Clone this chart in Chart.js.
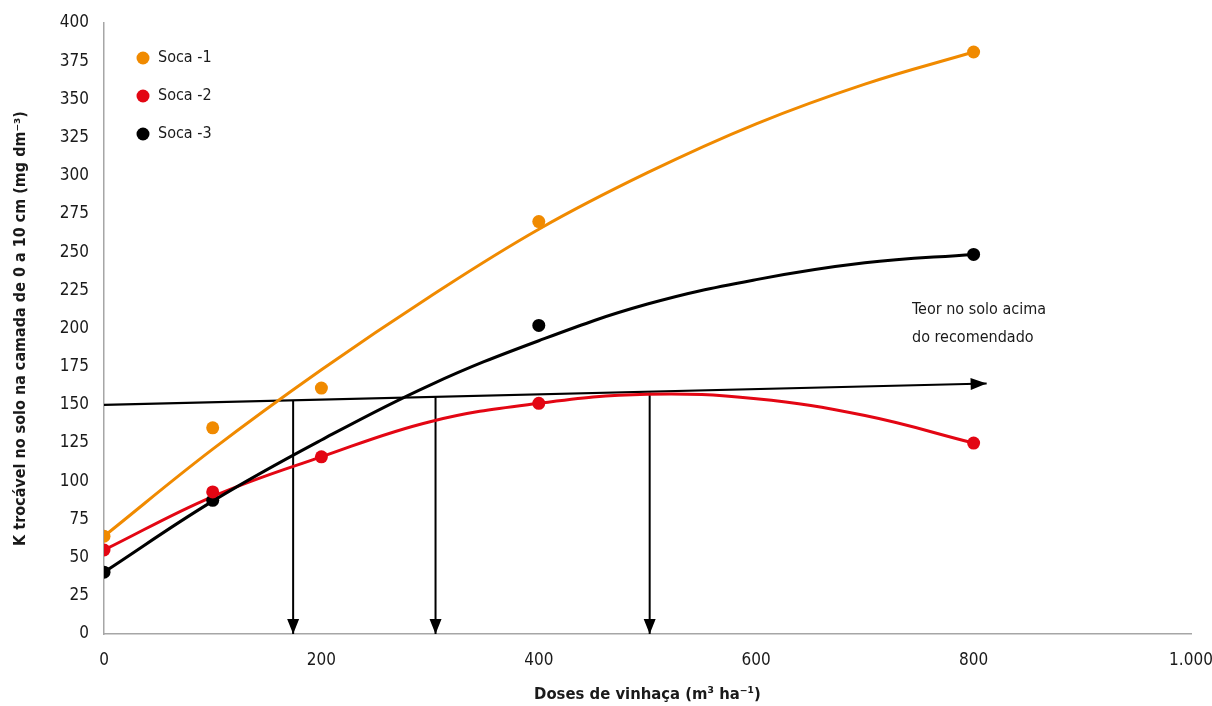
<!DOCTYPE html>
<html>
<head>
<meta charset="utf-8">
<script src="https://cdn.jsdelivr.net/npm/chart.js@4.4.1/dist/chart.umd.min.js"></script>
<style>
  html, body { margin: 0; padding: 0; background: #ffffff; }
  #wrap { width: 1212px; height: 706px; position: relative; }
</style>
</head>
<body>
<div id="wrap"><canvas id="c" width="1212" height="706"></canvas></div>
<script>
// Measured K contents (mg dm-3) by vinasse dose (m3 ha-1)
const doses = [0, 100, 200, 400, 800];
const soca1 = [64, 135, 161, 270, 381];
const soca2 = [55, 93, 116, 151, 125];
const soca3Doses = [0, 100, 400, 800];
const soca3 = [40.5, 87.5, 202, 248.5];

// Fitted response curves, read at regular doses
const curveDoses = [0, 100, 200, 300, 400, 500, 600, 700, 800];
const soca1Curve = [64, 121, 173, 221, 265, 302, 334, 360, 381];
const soca2Curve = [55, 90, 116, 139, 151, 157, 154, 143, 125];
const soca3Curve = [40.5, 87, 127, 163, 192, 216, 232, 243, 248.5];

// Recommended level line and dose markers
const refLineDoses = [0, 812];
const refLineValues = [150, 164];
const markerDoses = [174, 305, 502];
const markerTops = [153, 155.5, 158];

const xTickLabels = ['0', '200', '400', '600', '800', '1.000'];
const seriesNames = ['Soca -1', 'Soca -2', 'Soca -3'];
const seriesColors = ['#f08a00', '#e30613', '#000000'];
const noteLines = ['Teor no solo acima', 'do recomendado'];

const FONT = '"Liberation Sans Narrow", "DejaVu Sans Condensed", sans-serif';

const pts = (xs, ys) => xs.map((x, i) => ({ x: x, y: ys[i] }));

const datasets = [];
// measured points (drawn on top)
[[doses, soca1], [doses, soca2], [soca3Doses, soca3]].forEach((d, i) => {
  datasets.push({
    label: seriesNames[i],
    data: pts(d[0], d[1]),
    showLine: false,
    pointRadius: 6.5,
    pointHoverRadius: 6.5,
    backgroundColor: seriesColors[i],
    borderColor: seriesColors[i],
    borderWidth: 0,
    order: 1
  });
});
// fitted curves
[soca1Curve, soca2Curve, soca3Curve].forEach((c, i) => {
  datasets.push({
    label: seriesNames[i] + ' ajuste',
    data: pts(curveDoses, c),
    showLine: true,
    pointRadius: 0,
    borderColor: seriesColors[i],
    borderWidth: 3,
    tension: 0.4,
    fill: false,
    order: 2 + (2 - i)
  });
});
// recommended level line
datasets.push({
  label: 'ref',
  data: pts(refLineDoses, refLineValues),
  showLine: true,
  pointRadius: 0,
  borderColor: '#000000',
  borderWidth: 2.2,
  tension: 0,
  order: 6
});
// vertical markers
markerDoses.forEach((d, i) => {
  datasets.push({
    label: 'marker' + i,
    data: [{ x: d, y: markerTops[i] }, { x: d, y: 0 }],
    showLine: true,
    pointRadius: 0,
    borderColor: '#000000',
    borderWidth: 2,
    tension: 0,
    order: 7
  });
});

function arrowHead(ctx, tipX, tipY, angle, len, half) {
  ctx.save();
  ctx.translate(tipX, tipY);
  ctx.rotate(angle);
  ctx.beginPath();
  ctx.moveTo(0, 0);
  ctx.lineTo(-len, -half);
  ctx.lineTo(-len, half);
  ctx.closePath();
  ctx.fillStyle = '#000000';
  ctx.fill();
  ctx.restore();
}

const extras = {
  id: 'extras',
  afterDatasetsDraw(chart) {
    const ctx = chart.ctx;
    const xs = chart.scales.x, ys = chart.scales.y;
    // arrow at end of recommended level line
    const x0 = xs.getPixelForValue(refLineDoses[0]), y0 = ys.getPixelForValue(refLineValues[0]);
    const x1 = xs.getPixelForValue(refLineDoses[1]), y1 = ys.getPixelForValue(refLineValues[1]);
    arrowHead(ctx, x1, y1, Math.atan2(y1 - y0, x1 - x0), 16, 6);
    // arrows pointing down to the dose axis
    markerDoses.forEach(d => {
      arrowHead(ctx, xs.getPixelForValue(d), ys.getPixelForValue(0), Math.PI / 2, 15, 6);
    });
    // note text
    ctx.save();
    ctx.fillStyle = '#1a1a1a';
    ctx.font = '16px ' + FONT;
    ctx.textBaseline = 'middle';
    ctx.textAlign = 'left';
    noteLines.forEach((t, i) => ctx.fillText(t, 912, 310 + i * 28));
    // legend
    seriesNames.forEach((n, i) => {
      const cy = 58 + i * 38;
      ctx.beginPath();
      ctx.arc(143, cy, 6.5, 0, Math.PI * 2);
      ctx.fillStyle = seriesColors[i];
      ctx.fill();
      ctx.fillStyle = '#1a1a1a';
      ctx.fillText(n, 158, cy);
    });
    ctx.restore();
  }
};

new Chart(document.getElementById('c'), {
  type: 'scatter',
  data: { datasets: datasets },
  plugins: [extras],
  options: {
    responsive: false,
    animation: false,
    events: [],
    layout: { padding: { top: 23, right: 21, left: 0, bottom: 0 } },
    plugins: {
      legend: { display: false },
      tooltip: { enabled: false }
    },
    scales: {
      x: {
        type: 'linear',
        min: 0,
        max: 1000,
        afterFit: s => { s.height = 72; s.paddingLeft = 0; s.paddingRight = 0; },
        grid: { drawOnChartArea: false, drawTicks: false },
        border: { display: true, color: '#a6a6a6', width: 1.5 },
        ticks: {
          stepSize: 200,
          padding: 16,
          color: '#1a1a1a',
          font: { family: FONT, size: 17 },
          maxRotation: 0,
          callback: v => xTickLabels[v / 200]
        },
        title: {
          display: true,
          text: 'Doses de vinhaça (m³ ha⁻¹)',
          color: '#1a1a1a',
          font: { family: FONT, size: 16.5, weight: 'bold' },
          padding: { top: 0, bottom: 1 }
        }
      },
      y: {
        type: 'linear',
        min: 0,
        max: 400,
        afterFit: s => { s.width = 104; s.paddingTop = 0; s.paddingBottom = 0; },
        grid: { drawOnChartArea: false, drawTicks: false },
        border: { display: true, color: '#a6a6a6', width: 1.5 },
        ticks: {
          stepSize: 25,
          padding: 15,
          color: '#1a1a1a',
          font: { family: FONT, size: 17 }
        },
        title: {
          display: true,
          text: 'K trocável no solo na camada de 0 a 10 cm (mg dm⁻³)',
          color: '#1a1a1a',
          font: { family: FONT, size: 16, weight: 'bold' },
          padding: { top: 11, bottom: 0 }
        }
      }
    }
  }
});
</script>
</body>
</html>
